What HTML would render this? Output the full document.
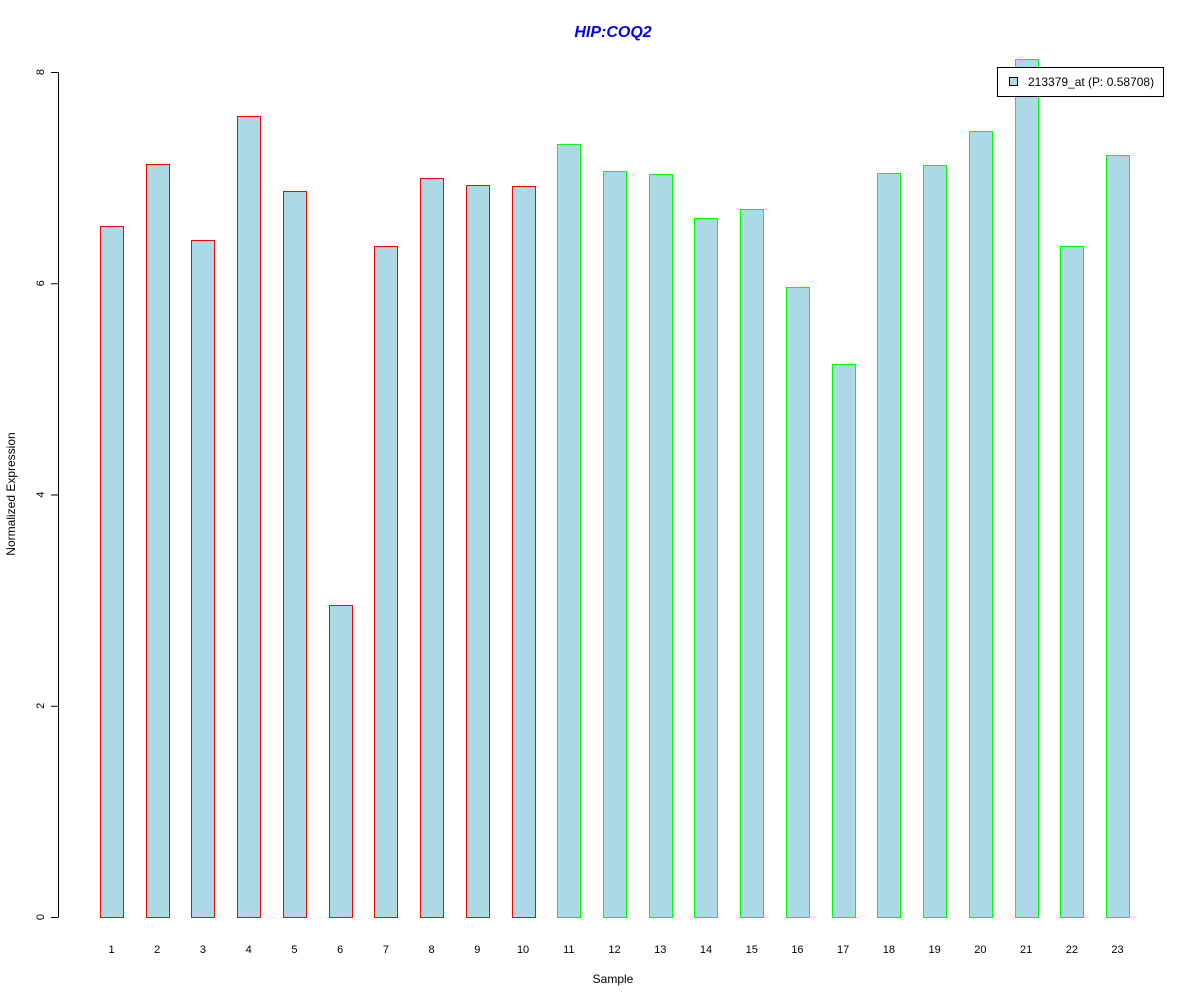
<!DOCTYPE html>
<html><head><meta charset="utf-8"><style>
html,body{margin:0;padding:0;background:#fff;}
svg{display:block;font-family:"Liberation Sans",Arial,sans-serif;}
</style></head><body>
<svg id="chart" width="1200" height="1000" viewBox="0 0 1200 1000">
<text x="613" y="37" text-anchor="middle" font-size="16" font-weight="bold" font-style="italic" fill="#0000ff">HIP:COQ2</text>
<text x="613" y="983" text-anchor="middle" font-size="12">Sample</text>
<text transform="translate(15,494) rotate(-90)" text-anchor="middle" font-size="12">Normalized Expression</text>
<g id="yaxis"></g>
<g id="bars"></g>
<g id="xlabels"></g>
<g>
<rect x="997.5" y="67.5" width="166" height="29" fill="#fff" stroke="#000"/>
<rect x="1009.5" y="77.5" width="8" height="8" fill="#add8e6" stroke="#000"/>
<text x="1028" y="86" font-size="12">213379_at (P: 0.58708)</text>
</g>
</svg>
<script>
const categories = ["1","2","3","4","5","6","7","8","9","10","11","12","13","14","15","16","17","18","19","20","21","22","23"];
const values = [6.54,7.13,6.41,7.58,6.87,2.95,6.35,7.0,6.93,6.92,7.32,7.06,7.03,6.62,6.70,5.96,5.24,7.04,7.12,7.44,8.12,6.35,7.21];
const groups = ["a","a","a","a","a","a","a","a","a","a","b","b","b","b","b","b","b","b","b","b","b","b","b"];
const yTicks = [0,2,4,6,8];
const NS = "http://www.w3.org/2000/svg";
const y = v => 917 - v * 105.625;
const xc = i => 111.5 + i * 45.73;
const bw = 23;
const ya = document.getElementById('yaxis');
const axl = document.createElementNS(NS,'line');


axl.setAttribute('x1',58.5);axl.setAttribute('x2',58.5);
axl.setAttribute('y1',y(yTicks[0]));axl.setAttribute('y2',y(yTicks[yTicks.length-1]));
axl.setAttribute('stroke','#000');ya.appendChild(axl);
yTicks.forEach(t=>{
  const l=document.createElementNS(NS,'line');
  
  
  l.setAttribute('x1',51);l.setAttribute('x2',58.5);
  l.setAttribute('y1',y(t)+0.5);l.setAttribute('y2',y(t)+0.5);
  l.setAttribute('stroke','#000');ya.appendChild(l);
  const tx=document.createElementNS(NS,'text');
  
  
  tx.setAttribute('transform','translate(44,'+y(t)+') rotate(-90)');
  tx.setAttribute('text-anchor','middle');tx.setAttribute('font-size','11');
  tx.textContent=t;ya.appendChild(tx);
});
const bg=document.getElementById('bars'), xl=document.getElementById('xlabels');
values.forEach((v,i)=>{
  const r=document.createElementNS(NS,'rect');
  
  
  r.setAttribute('x',Math.round(xc(i)-bw/2)+0.5);
  r.setAttribute('y',Math.round(y(v))+0.5);
  r.setAttribute('width',bw);
  r.setAttribute('height',Math.round(y(0))-Math.round(y(v)));
  r.setAttribute('fill','#add8e6');
  r.setAttribute('stroke',groups[i]==='a'?'#ff0000':'#00ff00');
  bg.appendChild(r);
  const t=document.createElementNS(NS,'text');
  
  
  t.setAttribute('x',xc(i));t.setAttribute('y',953);
  t.setAttribute('text-anchor','middle');t.setAttribute('font-size','11');
  t.textContent=categories[i];xl.appendChild(t);
});
</script>
</body></html>
